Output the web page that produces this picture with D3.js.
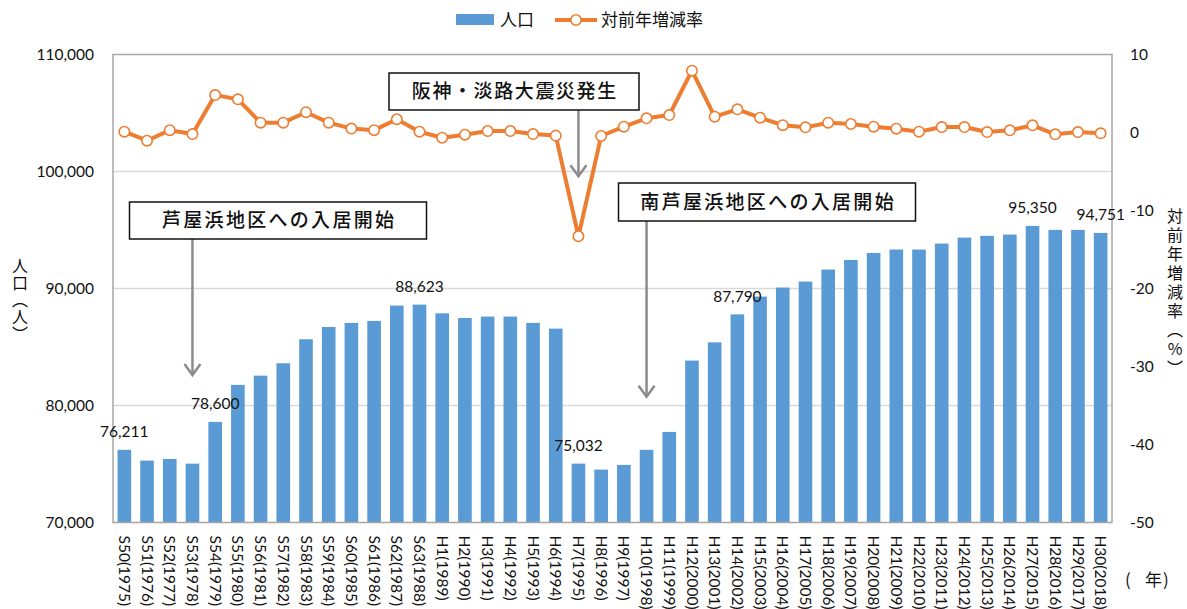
<!DOCTYPE html>
<html>
<head>
<meta charset="utf-8">
<script src="https://cdn.jsdelivr.net/npm/d3@7"></script>
<style>
  body { margin: 0; background: #fff; }
  svg { display: block; }
  .num { font-family: Lato, "Open Sans", sans-serif; font-size: 15.5px; fill: #111; }
  .jp { font-family: "Noto Sans CJK JP", sans-serif; fill: #111; }
</style>
</head>
<body>
<div id="chart"></div>
<script>
// 年度ラベル
const years = [
  'S50(1975)', 'S51(1976)', 'S52(1977)', 'S53(1978)', 'S54(1979)', 'S55(1980)', 'S56(1981)',
  'S57(1982)', 'S58(1983)', 'S59(1984)', 'S60(1985)', 'S61(1986)', 'S62(1987)', 'S63(1988)',
  'H1(1989)', 'H2(1990)', 'H3(1991)', 'H4(1992)', 'H5(1993)', 'H6(1994)', 'H7(1995)',
  'H8(1996)', 'H9(1997)', 'H10(1998)', 'H11(1999)', 'H12(2000)', 'H13(2001)', 'H14(2002)',
  'H15(2003)', 'H16(2004)', 'H17(2005)', 'H18(2006)', 'H19(2007)', 'H20(2008)', 'H21(2009)',
  'H22(2010)', 'H23(2011)', 'H24(2012)', 'H25(2013)', 'H26(2014)', 'H27(2015)', 'H28(2016)',
  'H29(2017)', 'H30(2018)'
]
// 人口（人）
const population = [
  76211, 75290, 75430, 75030, 78600, 81760, 82550, 83610, 85660, 86710, 87060, 87230, 88540, 88623,
  87880, 87480, 87600, 87600, 87060, 86570, 75032, 74520, 74920, 76210, 77740, 83840, 85400, 87790,
  89310, 90080, 90590, 91620, 92440, 93040, 93330, 93330, 93840, 94350, 94500, 94610, 95350, 95010,
  95010, 94751
]
// 対前年増減率（%）
const rate = [
  0.1, -1.05, 0.3, -0.2, 4.8, 4.25, 1.26, 1.26, 2.6, 1.26, 0.5, 0.3, 1.7, 0.1,
  -0.67, -0.28, 0.19, 0.19, -0.2, -0.4, -13.3, -0.45, 0.75, 1.82, 2.24, 7.93, 2.03, 2.97,
  1.9, 0.94, 0.66, 1.26, 1.09, 0.75, 0.49, 0.1, 0.7, 0.7, 0.06, 0.28, 0.92, -0.23,
  0.06, -0.1
]
// 値ラベルを付ける年
const labeledYears = ['S50(1975)', 'S54(1979)', 'S63(1988)', 'H7(1995)', 'H14(2002)', 'H27(2015)', 'H30(2018)']
const leftTicks = [70000, 80000, 90000, 100000, 110000]
const rightTicks = [-50, -40, -30, -20, -10, 0, 10]

const W = 1187, H = 609
const plot = { left: 113, right: 1112, top: 54.5, bottom: 522.5 }
const barColor = '#5b9bd5'
const lineColor = '#ed7d31'
const arrowColor = '#8c8c8c'

const svg = d3.select('#chart').append('svg')
  .attr('width', W)
  .attr('height', H)

const x = d3.scaleBand()
  .domain(years)
  .range([plot.left, plot.right])
  .paddingInner(0.4)
  .paddingOuter(0.2)

const yL = d3.scaleLinear().domain([70000, 110000]).range([plot.bottom, plot.top])
const yR = d3.scaleLinear().domain([-50, 10]).range([plot.bottom, plot.top])
const cx = d => x(d) + x.bandwidth() / 2

// gridlines
svg.append('g')
  .selectAll('line')
  .data(leftTicks.slice(1, -1))
  .join('line')
  .attr('x1', plot.left).attr('x2', plot.right)
  .attr('y1', d => yL(d)).attr('y2', d => yL(d))
  .attr('stroke', '#d9d9d9')
  .attr('stroke-width', 1.3)

// bars
svg.append('g')
  .selectAll('rect')
  .data(years)
  .join('rect')
  .attr('x', d => x(d))
  .attr('width', x.bandwidth())
  .attr('y', (d, i) => yL(population[i]))
  .attr('height', (d, i) => plot.bottom - yL(population[i]))
  .attr('fill', barColor)

// plot border
svg.append('rect')
  .attr('x', plot.left).attr('y', plot.top)
  .attr('width', plot.right - plot.left)
  .attr('height', plot.bottom - plot.top)
  .attr('fill', 'none')
  .attr('stroke', '#a6a6a6')
  .attr('stroke-width', 1.5)

// left axis
const axL = svg.append('g')
  .attr('transform', `translate(${plot.left},0)`)
  .call(d3.axisLeft(yL).tickValues(leftTicks).tickSize(0).tickPadding(19).tickFormat(d3.format(',')))
axL.select('.domain').remove()
axL.selectAll('text').attr('class', 'num').attr('fill', null)

// right axis
const axR = svg.append('g')
  .attr('transform', `translate(${plot.right},0)`)
  .call(d3.axisRight(yR).tickValues(rightTicks).tickSize(0).tickPadding(18).tickFormat(d => String(d)))
axR.select('.domain').remove()
axR.selectAll('text').attr('class', 'num').attr('fill', null)

// x axis labels (rotated)
svg.append('g')
  .selectAll('text')
  .data(years)
  .join('text')
  .attr('class', 'num')
  .attr('transform', d => `translate(${cx(d)},${plot.bottom + 13}) rotate(90)`)
  .attr('dy', '0.35em')
  .text(d => d)

// rate line
const line = d3.line()
  .x((d, i) => cx(years[i]))
  .y(d => yR(d))

svg.append('path')
  .datum(rate)
  .attr('d', line)
  .attr('fill', 'none')
  .attr('stroke', lineColor)
  .attr('stroke-width', 4)
  .attr('stroke-linejoin', 'round')

svg.append('g')
  .selectAll('circle')
  .data(rate)
  .join('circle')
  .attr('cx', (d, i) => cx(years[i]))
  .attr('cy', d => yR(d))
  .attr('r', 5.2)
  .attr('fill', '#fff')
  .attr('stroke', lineColor)
  .attr('stroke-width', 1.6)

// data labels
svg.append('g')
  .selectAll('text')
  .data(labeledYears)
  .join('text')
  .attr('class', 'num')
  .attr('text-anchor', 'middle')
  .attr('x', d => cx(d))
  .attr('y', d => yL(population[years.indexOf(d)]) - 18)
  .attr('dy', '0.35em')
  .text(d => d3.format(',')(population[years.indexOf(d)]))

// annotations: box + arrow
const notes = [
  { text: '阪神・淡路大震災発生', year: 'H7(1995)', box: [389, 73, 250, 37], tipR: -5.6, ls: 1.6 },
  { text: '芦屋浜地区への入居開始', year: 'S53(1978)', box: [129.5, 202, 297, 37], tipL: 82600, ls: 2.3 },
  { text: '南芦屋浜地区への入居開始', year: 'H10(1998)', box: [618.5, 183, 297, 38], tipL: 80750, ls: 2.3 }
]
notes.forEach(n => {
  const [bx, by, bw, bh] = n.box
  const ax = cx(n.year)
  const tip = n.tipR !== undefined ? yR(n.tipR) : yL(n.tipL)
  const g = svg.append('g')
  g.append('line')
    .attr('x1', ax).attr('x2', ax)
    .attr('y1', by + bh).attr('y2', tip)
    .attr('stroke', arrowColor)
    .attr('stroke-width', 2.5)
  g.append('path')
    .attr('d', `M${ax - 8},${tip - 11} L${ax},${tip} L${ax + 8},${tip - 11}`)
    .attr('fill', 'none')
    .attr('stroke', arrowColor)
    .attr('stroke-width', 2.5)
  g.append('rect')
    .attr('x', bx).attr('y', by)
    .attr('width', bw).attr('height', bh)
    .attr('fill', '#fff')
    .attr('stroke', '#111')
    .attr('stroke-width', 1.5)
  g.append('text')
    .attr('class', 'jp')
    .attr('x', bx + bw / 2 + n.ls / 2)
    .attr('y', by + bh / 2)
    .attr('dy', '0.36em')
    .attr('text-anchor', 'middle')
    .attr('font-size', 19)
    .attr('font-weight', 500)
    .attr('letter-spacing', n.ls)
    .text(n.text)
})

// legend
const lg = svg.append('g')
lg.append('rect')
  .attr('x', 456).attr('y', 14).attr('width', 38).attr('height', 11)
  .attr('fill', barColor)
lg.append('text')
  .attr('class', 'jp')
  .attr('x', 500).attr('y', 20).attr('dy', '0.36em')
  .attr('font-size', 17)
  .text('人口')
lg.append('line')
  .attr('x1', 555).attr('x2', 597).attr('y1', 20).attr('y2', 20)
  .attr('stroke', lineColor).attr('stroke-width', 4)
lg.append('circle')
  .attr('cx', 576).attr('cy', 20).attr('r', 5.2)
  .attr('fill', '#fff').attr('stroke', lineColor).attr('stroke-width', 1.6)
lg.append('text')
  .attr('class', 'jp')
  .attr('x', 601).attr('y', 20).attr('dy', '0.36em')
  .attr('font-size', 17)
  .text('対前年増減率')

// axis titles
svg.append('text')
  .attr('class', 'jp')
  .attr('x', 20).attr('y', 300)
  .attr('text-anchor', 'middle')
  .attr('font-size', 16)
  .attr('letter-spacing', 1)
  .style('writing-mode', 'vertical-rl')
  .style('text-orientation', 'upright')
  .text('人口（人）')

svg.append('text')
  .attr('class', 'jp')
  .attr('x', 1175).attr('y', 293)
  .attr('text-anchor', 'middle')
  .attr('font-size', 16)
  .attr('letter-spacing', 3)
  .style('writing-mode', 'vertical-rl')
  .style('text-orientation', 'upright')
  .text('対前年増減率（%）')

const unit = svg.append('text')
  .attr('class', 'jp')
  .attr('y', 580).attr('dy', '0.36em')
  .attr('font-size', 17)
unit.append('tspan').attr('x', 1125).text('(')
unit.append('tspan').attr('x', 1145).text('年')
unit.append('tspan').attr('x', 1163).text(')')
</script>
</body>
</html>
